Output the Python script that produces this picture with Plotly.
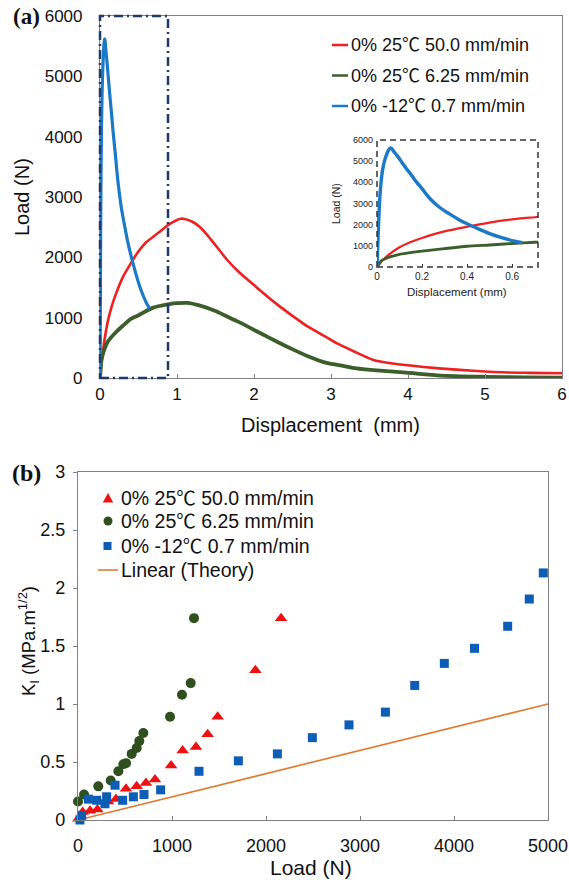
import plotly.graph_objects as go

W, H = 569, 880

# ---------------- data: panel (a) load vs displacement ----------------
red_disp = [0, 0.02, 0.05, 0.1, 0.15, 0.2, 0.3, 0.4, 0.5, 0.6, 0.7, 0.8, 0.9, 1.0, 1.05, 1.1,
            1.2, 1.3, 1.4, 1.5, 1.65, 1.8, 2.0, 2.1, 2.3, 2.5, 2.7, 2.95, 3.1, 3.3, 3.55,
            3.8, 4.0, 4.4, 4.85, 5.3, 5.6, 6.0]
red_load = [0, 260, 560, 930, 1180, 1370, 1680, 1900, 2100, 2250, 2350, 2450, 2550, 2620,
            2640, 2635, 2590, 2500, 2360, 2200, 1960, 1760, 1540, 1430, 1220, 1030, 850, 670,
            560, 440, 300, 240, 210, 160, 120, 90, 85, 78]

green_disp = [0, 0.02, 0.05, 0.1, 0.2, 0.3, 0.4, 0.5, 0.6, 0.7, 0.8, 0.9, 1.0, 1.13, 1.3, 1.5,
              1.65, 1.8, 2.08, 2.3, 2.51, 2.7, 2.94, 3.12, 3.33, 3.55, 3.98, 4.42, 5.0, 5.5, 6.0]
green_load = [0, 300, 450, 600, 750, 870, 980, 1040, 1110, 1170, 1200, 1225, 1240, 1245, 1200,
              1110, 1020, 930, 745, 600, 470, 360, 250, 210, 160, 130, 88, 40, 20, 10, 5]

blue_disp = [0, 0.004, 0.008, 0.012, 0.018, 0.025, 0.033, 0.042, 0.05, 0.058, 0.065, 0.075,
             0.09, 0.11, 0.13, 0.15, 0.17, 0.2, 0.22, 0.24, 0.28, 0.32, 0.36, 0.4, 0.45, 0.5,
             0.55, 0.6, 0.645]
blue_load = [0, 1200, 2300, 3200, 4000, 4600, 5000, 5300, 5500, 5620, 5600, 5450, 5250, 4950,
             4650, 4380, 4080, 3700, 3420, 3180, 2800, 2520, 2260, 2040, 1800, 1580, 1400,
             1250, 1150]

names = ["0% 25\u2103 50.0 mm/min", "0% 25\u2103 6.25 mm/min", "0% -12\u2103 0.7 mm/min"]

# ---------------- data: panel (b) K_I vs load ----------------
tri_load = [3, 50, 128, 206, 320, 404, 511, 624, 723, 819, 990, 1113, 1255, 1379, 1486, 1887, 2160]
tri_K = [0.01, 0.07, 0.08, 0.09, 0.16, 0.18, 0.27, 0.29, 0.32, 0.35, 0.47, 0.60, 0.63, 0.74,
         0.89, 1.29, 1.74]

circ_load = [0, 64, 216, 348, 429, 482, 511, 571, 624, 652, 695, 979, 1106, 1199, 1234]
circ_K = [0.16, 0.22, 0.29, 0.34, 0.42, 0.48, 0.49, 0.57, 0.62, 0.68, 0.75, 0.89, 1.08, 1.18, 1.74]

sq_load = [21, 39, 110, 199, 287, 305, 394, 475, 589, 702, 879, 1287, 1706, 2121, 2493, 2883,
           3270, 3582, 3897, 4218, 4571, 4801, 4950]
sq_K = [0.00, 0.04, 0.18, 0.17, 0.14, 0.20, 0.30, 0.17, 0.20, 0.22, 0.26, 0.42, 0.51, 0.57,
        0.71, 0.82, 0.93, 1.16, 1.35, 1.48, 1.67, 1.905, 2.13]

theory_load = [0, 5000]
theory_K = [0, 1.0]
theory_name = "Linear (Theory)"

a_xticks = [0, 1, 2, 3, 4, 5, 6]
a_yticks = [0, 1000, 2000, 3000, 4000, 5000, 6000]
inset_xticks = [0, 0.2, 0.4, 0.6]
b_xticks = [0, 1000, 2000, 3000, 4000, 5000]
b_yticks = [0, 0.5, 1, 1.5, 2, 2.5, 3]

# ---------------- styling ----------------
RED, GREEN, BLUE = "#EE2020", "#3B5E2B", "#1B7AC8"
TRI_C, CIRC_C, SQ_C, TH_C = "#EE1111", "#2F4F1F", "#0B5DB5", "#E07A2E"
FONT = "Liberation Sans, Arial, Noto Sans CJK KR, sans-serif"
SERIF = "Liberation Serif, Times New Roman, serif"
AXC = "#808080"


def px(x):
    return x / W


def py(y):
    return 1 - y / H


fig = go.Figure()

# main panel (a)
for xs, ys, c, w in [(red_disp, red_load, RED, 2.6), (green_disp, green_load, GREEN, 3.8),
                     (blue_disp, blue_load, BLUE, 3.2)]:
    fig.add_trace(go.Scatter(x=xs, y=ys, mode="lines", line=dict(color=c, width=w, shape="spline",
                                                                 smoothing=0.6),
                             xaxis="x", yaxis="y", showlegend=False))
# inset
for xs, ys, c, w in [(red_disp, red_load, RED, 2.2), (green_disp, green_load, GREEN, 2.8),
                     (blue_disp, blue_load, BLUE, 3.4)]:
    fig.add_trace(go.Scatter(x=xs, y=ys, mode="lines", line=dict(color=c, width=w, shape="spline",
                                                                 smoothing=0.6),
                             xaxis="x3", yaxis="y3", showlegend=False))
# panel (b)
fig.add_trace(go.Scatter(x=theory_load, y=theory_K, mode="lines", line=dict(color=TH_C, width=1.6),
                         xaxis="x2", yaxis="y2", showlegend=False))
fig.add_trace(go.Scatter(x=tri_load, y=tri_K, mode="markers", cliponaxis=False,
                         marker=dict(symbol="triangle-up", size=11, color=TRI_C),
                         xaxis="x2", yaxis="y2", showlegend=False))
fig.add_trace(go.Scatter(x=circ_load, y=circ_K, mode="markers", cliponaxis=False,
                         marker=dict(symbol="circle", size=10, color=CIRC_C),
                         xaxis="x2", yaxis="y2", showlegend=False))
fig.add_trace(go.Scatter(x=sq_load, y=sq_K, mode="markers", cliponaxis=False,
                         marker=dict(symbol="square", size=9, color=SQ_C),
                         xaxis="x2", yaxis="y2", showlegend=False))

axis_common = dict(showgrid=False, zeroline=False, showline=True, linecolor=AXC, linewidth=1.2,
                   mirror=True, automargin=False, tickfont=dict(family=FONT, size=17, color="#111"))
bfont = dict(family=FONT, size=18, color="#111")

fig.update_layout(
    template="none",
    width=W, height=H, margin=dict(l=0, r=0, t=0, b=0, pad=0),
    paper_bgcolor="white", plot_bgcolor="white",
    font=dict(family=FONT, color="#111"),
    xaxis=dict(domain=[px(100), px(562)], range=[0, 6], tickvals=a_xticks, ticks="inside",
               ticklen=4, tickcolor=AXC, ticklabelstandoff=0, anchor="y", **axis_common),
    yaxis=dict(domain=[py(378), py(16)], range=[0, 6000], tickvals=a_yticks, ticks="",
               ticklabelstandoff=13, anchor="x", **axis_common),
    xaxis2=dict(domain=[px(78), px(548)], range=[0, 5000], tickvals=b_xticks, ticks="inside",
                ticklen=4, tickcolor=AXC, ticklabelstandoff=9, anchor="y2",
                **{**axis_common, "tickfont": bfont}),
    yaxis2=dict(domain=[py(820), py(472)], range=[0, 3], tickvals=b_yticks, ticks="outside",
                ticklen=4, tickcolor=AXC, ticklabelstandoff=4, anchor="x2",
                **{**axis_common, "tickfont": bfont}),
    xaxis3=dict(domain=[px(377), px(538)], range=[0, 0.715], tickvals=inset_xticks,
                ticks="inside", ticklen=3, tickcolor="#333", showgrid=False, zeroline=False,
                showline=False, automargin=False, ticklabelstandoff=2, anchor="y3",
                tickfont=dict(family=FONT, size=10, color="#222")),
    yaxis3=dict(domain=[py(267), py(140)], range=[0, 6000], tickvals=a_yticks, ticks="",
                showgrid=False, zeroline=False, showline=False, automargin=False,
                ticklabelstandoff=3, anchor="x3", tickfont=dict(family=FONT, size=9, color="#222")),
)

shapes = []
# dash-dot zoom rectangle in (a)
shapes.append(dict(type="rect", xref="paper", yref="paper", x0=px(100), x1=px(168),
                   y0=py(378), y1=py(16), line=dict(color="#1F3A68", width=2.5,
                                                     dash="9px,4px,2px,4px"),
                   layer="above"))
# dashed inset frame
shapes.append(dict(type="rect", xref="paper", yref="paper", x0=px(377), x1=px(538),
                   y0=py(267), y1=py(140), line=dict(color="#333", width=1.5, dash="6px,4px"),
                   layer="above"))

annotations = []


def text(x, y, s, size, family=FONT, color="#111", xanchor="center", angle=0):
    annotations.append(dict(x=px(x), y=py(y), xref="paper", yref="paper", text=s,
                            showarrow=False, xanchor=xanchor, yanchor="middle",
                            textangle=angle, font=dict(family=family, size=size, color=color)))


# legend (a)
for nm, c, yy in zip(names, [RED, GREEN, BLUE], [45, 75.5, 106]):
    shapes.append(dict(type="line", xref="paper", yref="paper", x0=px(332), x1=px(348),
                       y0=py(yy), y1=py(yy), line=dict(color=c, width=2.5)))
    text(349, yy, nm, 18, xanchor="left")

# legend (b)
ly = [498, 521, 546, 570]
tx, ty, s = 108, ly[0], 5.2
shapes.append(dict(type="path", xref="paper", yref="paper",
                   path=f"M {px(tx - s)},{py(ty + s * 0.85)} L {px(tx + s)},{py(ty + s * 0.85)} "
                        f"L {px(tx)},{py(ty - s * 0.95)} Z",
                   fillcolor=TRI_C, line=dict(width=0)))
shapes.append(dict(type="circle", xref="paper", yref="paper", x0=px(108 - 4.5), x1=px(108 + 4.5),
                   y0=py(ly[1] + 4.5), y1=py(ly[1] - 4.5), fillcolor=CIRC_C, line=dict(width=0)))
shapes.append(dict(type="rect", xref="paper", yref="paper", x0=px(107.5 - 4), x1=px(107.5 + 4),
                   y0=py(ly[2] + 4), y1=py(ly[2] - 4), fillcolor=SQ_C, line=dict(width=0)))
shapes.append(dict(type="line", xref="paper", yref="paper", x0=px(98), x1=px(118),
                   y0=py(ly[3]), y1=py(ly[3]), line=dict(color=TH_C, width=1.6)))
for nm, yy in zip(names + [theory_name], ly):
    text(119, yy, nm, 19.5, xanchor="left")

# axis titles and panel labels
text(330, 425, "Displacement  (mm)", 20)
text(22, 197, "Load (N)", 20, angle=-90)
text(457, 292, "Displacement (mm)", 11.5, color="#222")
text(336, 204, "Load (N)", 10.5, color="#222", angle=-90)
text(311, 867, "Load (N)", 21)
text(28, 641, "K<sub>I</sub> (MPa.m<sup>1/2</sup>)", 18.5, angle=-90)
text(11, 17, "<b>(a)</b>", 23, family=SERIF, xanchor="left")
text(10, 473, "<b>(b)</b>", 24, family=SERIF, xanchor="left")

fig.update_layout(shapes=shapes, annotations=annotations)
fig.write_html("out.html", config={"displayModeBar": False},
               post_script="document.body.style.margin='0';")
